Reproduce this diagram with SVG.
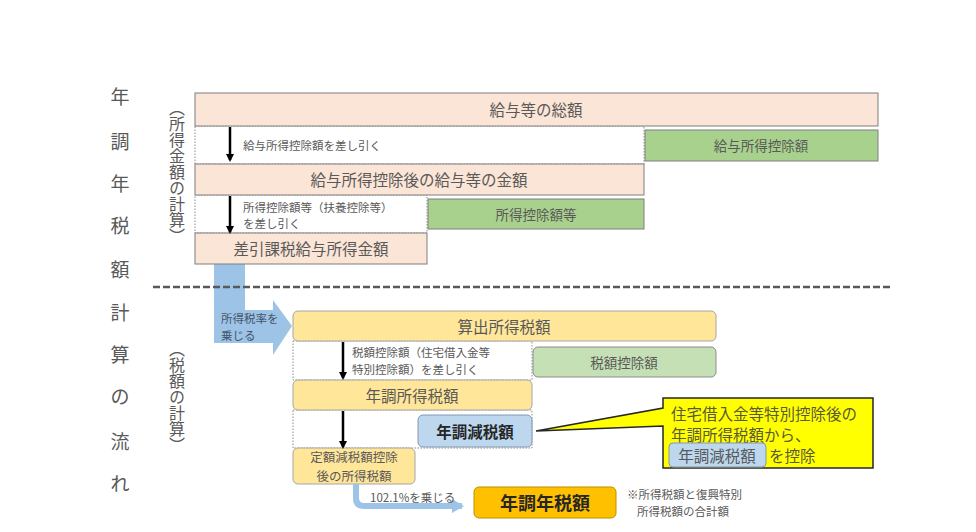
<svg xmlns="http://www.w3.org/2000/svg" width="976" height="532" viewBox="0 0 976 532">
<style>
text{font-family:"Noto Sans CJK JP","Noto Sans",sans-serif;fill:#595959;}
.c{text-anchor:middle;dominant-baseline:central;}
.l{dominant-baseline:central;}
.peach{fill:#FBE5D6;stroke:#7F7F7F;stroke-width:1;}
.green{fill:#A9D18E;stroke:#7F7F7F;stroke-width:1;}
.lgreen{fill:#C5E0B4;stroke:#8C8C8C;stroke-width:1;}
.yel{fill:#FFE699;stroke:#A6A6A6;stroke-width:1;}
.blue{fill:#BDD7EE;stroke:#8497B0;stroke-width:1;}
.orange{fill:#FFC000;stroke:#BF9000;stroke-width:1;}
.dot{fill:#FFFFFF;stroke:#8C8C8C;stroke-width:1;stroke-dasharray:1.5,1.5;}
.arr{stroke:#000;stroke-width:2.5;fill:none;marker-end:url(#ah);}
.title{font-size:19px;}
.vt{font-size:16px;writing-mode:vertical-rl;text-orientation:upright;}
.big{font-size:15.5px;}
.mid{font-size:13.5px;}
.sm{font-size:11.5px;}
.bold{font-weight:bold;fill:#262626;}
</style>
<defs>
<marker id="ah" markerWidth="8" markerHeight="8" refX="6" refY="4" orient="auto" markerUnits="userSpaceOnUse">
<path d="M0,0 L8,4 L0,8 Z" fill="#000"/>
</marker>
<marker id="bah" markerWidth="12" markerHeight="14" refX="10" refY="7" orient="auto" markerUnits="userSpaceOnUse">
<path d="M0,0 L12,7 L0,14 Z" fill="#9DC3E6"/>
</marker>
</defs>
<rect width="976" height="532" fill="#FFFFFF"/>

<g id="title">
<text class="c title" x="120" y="95">年</text>
<text class="c title" x="120" y="140">調</text>
<text class="c title" x="120" y="182">年</text>
<text class="c title" x="120" y="224">税</text>
<text class="c title" x="120" y="268">額</text>
<text class="c title" x="120" y="311">計</text>
<text class="c title" x="120" y="353">算</text>
<text class="c title" x="120" y="395">の</text>
<text class="c title" x="120" y="440">流</text>
<text class="c title" x="120" y="482">れ</text>
</g>
<g id="label-income">
<text class="vt" x="177" y="100">（所得金額の計算）</text>
</g>
<g id="label-tax">
<text class="vt" x="177" y="341">（税額の計算）</text>
</g>

<g id="regions">
<rect class="dot" x="195" y="126" width="449" height="38"/>
<rect class="dot" x="195" y="195" width="232" height="38"/>
<rect class="dot" x="293" y="341" width="239" height="39"/>
<rect class="dot" x="293" y="410" width="239" height="38"/>
</g>

<g id="blue-arrow-1">
<path d="M214,264 L245,264 L245,310 L273,310 L273,300 L292,326 L273,355 L273,343 L214,343 Z" fill="#9DC3E6"/>
<text class="l sm" x="221" y="318" style="fill:#44546A">所得税率を</text>
<text class="l sm" x="221" y="335" style="fill:#44546A">乗じる</text>
</g>

<g id="divider">
<line x1="153" y1="287" x2="890" y2="287" stroke="#595959" stroke-width="2.5" stroke-dasharray="7,3"/>
</g>

<g id="n-kyuyo-sogaku">
<rect class="peach" x="195" y="93" width="683" height="33"/>
<text class="c big" x="536" y="109">給与等の総額</text>
</g>
<g id="n-kyuyo-kojo">
<rect class="green" x="645" y="130" width="233" height="31"/>
<text class="c mid" x="761" y="145">給与所得控除額</text>
</g>
<g id="n-kyuyo-kingaku">
<rect class="peach" x="195" y="164" width="449" height="31"/>
<text class="c big" x="419" y="179">給与所得控除後の給与等の金額</text>
</g>
<g id="n-shotoku-kojo">
<rect class="green" x="428" y="199" width="216" height="30"/>
<text class="c mid" x="536" y="214">所得控除額等</text>
</g>
<g id="n-sashihiki">
<rect class="peach" x="195" y="233" width="232" height="31"/>
<text class="c big" x="311" y="248">差引課税給与所得金額</text>
</g>

<g id="n-sanshutsu">
<rect class="yel" x="293" y="311" width="423" height="30" rx="5"/>
<text class="c big" x="504" y="326">算出所得税額</text>
</g>
<g id="n-zeigaku-kojo">
<rect class="lgreen" x="533" y="347" width="183" height="30" rx="5"/>
<text class="c mid" x="624" y="362">税額控除額</text>
</g>
<g id="n-nencho-shotoku">
<rect class="yel" x="293" y="380" width="239" height="30" rx="5"/>
<text class="c big" x="412" y="395">年調所得税額</text>
</g>
<g id="n-nencho-genzei">
<rect class="blue" x="418" y="415" width="114" height="32" rx="5"/>
<text class="c big bold" x="475" y="431">年調減税額</text>
</g>
<g id="n-teigaku">
<rect class="yel" x="293" y="448" width="122" height="36" rx="5"/>
<text class="c" style="font-size:12.5px" x="354" y="456.5">定額減税額控除</text>
<text class="c" style="font-size:12.5px" x="354" y="475">後の所得税額</text>
</g>
<g id="n-nencho-nenzei">
<rect class="orange" x="474" y="487" width="142" height="31" rx="5"/>
<text class="c bold" style="font-size:18px" x="545" y="502">年調年税額</text>
</g>
<g id="note">
<text class="l sm" x="627" y="494">※所得税額と復興特別</text>
<text class="l sm" x="637" y="511">所得税額の合計額</text>
</g>

<g id="callout">
<path d="M663,398 L873,398 L873,468 L663,468 L663,426 L536,431 L663,408 Z" fill="#FFFF00" stroke="#262626" stroke-width="1.5" stroke-linejoin="miter"/>
<text class="l big" x="671" y="413" style="fill:#5a5a3a">住宅借入金等特別控除後の</text>
<text class="l big" x="671" y="434" style="fill:#5a5a3a">年調所得税額から、</text>
<rect class="blue" x="669" y="443" width="97" height="24" rx="4"/>
<text class="c big" x="717" y="455">年調減税額</text>
<text class="l big" x="769" y="455" style="fill:#5a5a3a">を控除</text>
</g>

<g id="connectors">
<line class="arr" x1="230" y1="127" x2="230" y2="160"/>
<line class="arr" x1="230" y1="196" x2="230" y2="232"/>
<line class="arr" x1="343" y1="342" x2="343" y2="378"/>
<line class="arr" x1="343" y1="411" x2="343" y2="447"/>
<path d="M356,484 L356,498 Q356,506 364,506 L462,506" fill="none" stroke="#9DC3E6" stroke-width="6" marker-end="url(#bah)"/>
<text class="l sm" x="370" y="497">102.1%を乗じる</text>
</g>
<g id="connector-labels">
<text class="l sm" x="243" y="145">給与所得控除額を差し引く</text>
<text class="l sm" x="243" y="207">所得控除額等（扶養控除等）</text>
<text class="l sm" x="243" y="223">を差し引く</text>
<text class="l sm" x="352" y="352">税額控除額（住宅借入金等</text>
<text class="l sm" x="352" y="369">特別控除額）を差し引く</text>
</g>
</svg>
